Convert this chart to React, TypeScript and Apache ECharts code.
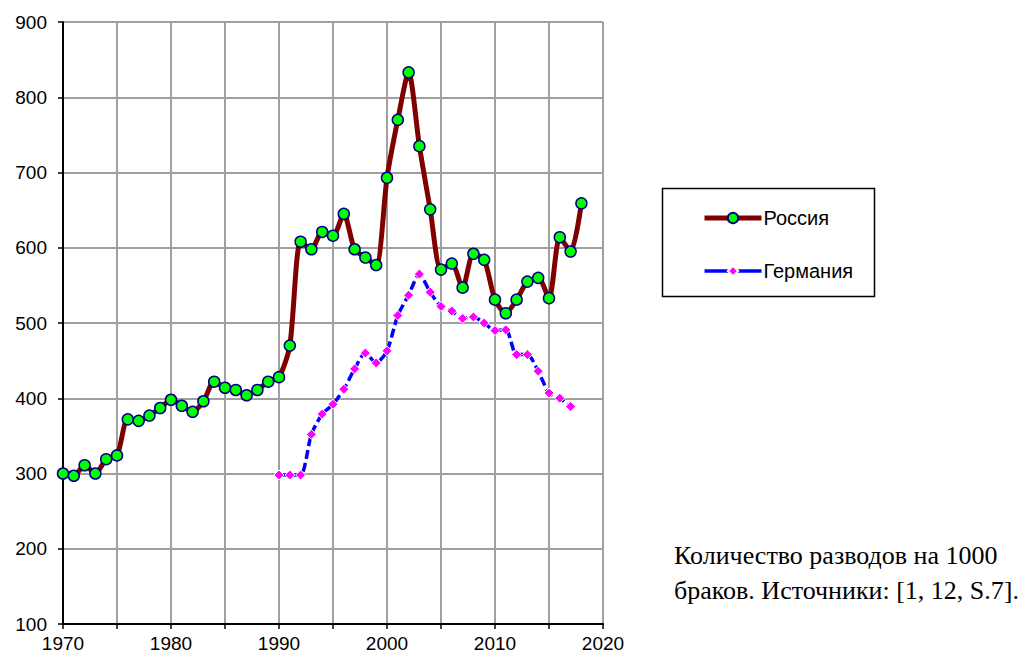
import React, { useEffect, useRef } from "react";
import * as echarts from "echarts";

const years = [1970,1971,1972,1973,1974,1975,1976,1977,1978,1979,1980,1981,1982,1983,1984,1985,1986,1987,1988,1989,1990,1991,1992,1993,1994,1995,1996,1997,1998,1999,2000,2001,2002,2003,2004,2005,2006,2007,2008,2009,2010,2011,2012,2013,2014,2015,2016,2017,2018];
const russia = [300,297,311,300,319,324,372,370,377,387,398,390,382,396,422,414,411,404,411,422,428,470,608,598,621,616,645,598,587,577,693,770,833,735,651,571,579,547,592,584,531,513,531,555,560,533,614,595,659];
const germanyYears = [1990,1991,1992,1993,1994,1995,1996,1997,1998,1999,2000,2001,2002,2003,2004,2005,2006,2007,2008,2009,2010,2011,2012,2013,2014,2015,2016,2017];
const germany = [298,298,298,352,379,392,412,439,460,447,463,510,537,565,541,522,516,506,508,500,490,491,458,458,436,407,400,389];
const seriesNames = ["Россия", "Германия"];
const noteLines = ["Количество разводов на 1000", "браков. Источники: [1, 12, S.7]."];

export default function App() {
  const ref = useRef<HTMLDivElement>(null);
  useEffect(() => {
    const chart = echarts.init(ref.current!, null, { renderer: "svg" });
    const font = "Arial, 'Liberation Sans', sans-serif";
    chart.setOption({
      animation: false,
      backgroundColor: "#ffffff",
      grid: { left: 63, right: 431, top: 22, bottom: 37 },
      xAxis: {
        type: "value",
        min: 1970,
        max: 2020,
        interval: 5,
        axisLine: { show: true, lineStyle: { color: "#000", width: 2 } },
        axisTick: { show: true, length: 5, lineStyle: { color: "#000", width: 1.5 } },
        splitLine: { show: true, lineStyle: { color: "#a0a0a0", width: 2 } },
        axisLabel: {
          color: "#000",
          fontFamily: font,
          fontSize: 19,
          margin: 10,
          formatter: (v: number) => (v % 10 === 0 ? String(v) : ""),
        },
      },
      yAxis: {
        type: "value",
        min: 100,
        max: 900,
        interval: 100,
        axisLine: { show: true, lineStyle: { color: "#000", width: 2 } },
        axisTick: { show: true, length: 5, lineStyle: { color: "#000", width: 1.5 } },
        splitLine: { show: true, lineStyle: { color: "#a0a0a0", width: 2 } },
        axisLabel: { color: "#000", fontFamily: font, fontSize: 19, margin: 16 },
      },
      legend: {
        orient: "vertical",
        left: 697,
        top: 203,
        itemWidth: 57,
        itemHeight: 13,
        itemGap: 33,
        textStyle: { color: "#000", fontFamily: font, fontSize: 20, padding: [0, 0, 0, -3] },
        data: [
          { name: seriesNames[0], lineStyle: { width: 5, color: "#800000", type: "solid" } },
          { name: seriesNames[1], lineStyle: { width: 3.5, color: "#0000ff", type: "solid" } },
        ],
      },
      graphic: [
        {
          type: "rect",
          shape: { x: 662.5, y: 188.5, width: 212, height: 108 },
          style: { fill: "none", stroke: "#000", lineWidth: 1.5 },
          z: 10,
        },
        {
          type: "text",
          left: 674,
          top: 538,
          style: {
            text: noteLines.join("\n"),
            fill: "#000",
            fontFamily: "'Liberation Serif', 'Times New Roman', serif",
            fontSize: 26,
            lineHeight: 35,
          },
        },
      ],
      series: [
        {
          name: seriesNames[0],
          type: "line",
          smooth: 0.25,
          data: years.map((y, i) => [y, russia[i]]),
          lineStyle: { color: "#800000", width: 5 },
          symbol: "circle",
          symbolSize: 11,
          itemStyle: { color: "#00ff00", borderColor: "#000080", borderWidth: 1.5 },
          z: 3,
        },
        {
          name: seriesNames[1],
          type: "line",
          smooth: 0.25,
          data: germanyYears.map((y, i) => [y, germany[i]]),
          lineStyle: { color: "#0000ff", width: 3.5, type: [9, 4] },
          symbol: "diamond",
          symbolSize: 10,
          itemStyle: { color: "#ff00ff", borderColor: "#ffffff", borderWidth: 1 },
          z: 2,
        },
      ],
    });
    return () => chart.dispose();
  }, []);
  return <div ref={ref} style={{ width: 1034, height: 661, position: "absolute", left: 0, top: 0 }} />;
}
